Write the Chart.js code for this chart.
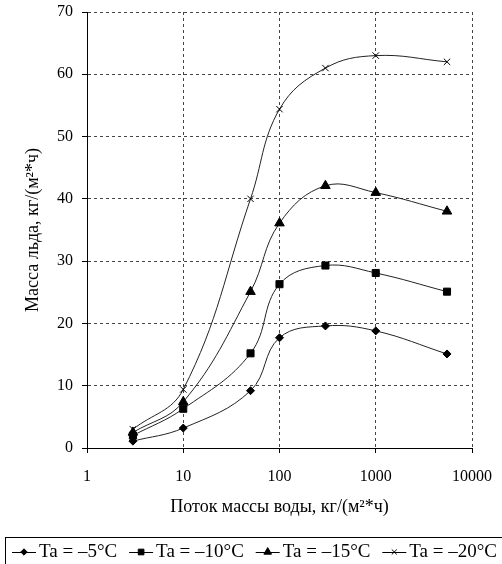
<!DOCTYPE html>
<html>
<head>
<meta charset="utf-8">
<script src="https://cdn.jsdelivr.net/npm/chart.js@4.4.1/dist/chart.umd.min.js"></script>
<style>
html, body { margin: 0; padding: 0; background: #fff; }
</style>
</head>
<body>
<canvas id="myChart" width="502" height="564"></canvas>
<script>
// Water mass flow, kg/(m2*h)
const flowValues = [3, 10, 50, 100, 300, 1000, 5500];

// Ice mass for each air temperature, kg/(m2*h)
const iceMinus5 = [1.1, 3.2, 9.2, 17.7, 19.6, 18.8, 15.1];
const iceMinus10 = [2.0, 6.3, 15.2, 26.3, 29.3, 28.1, 25.1];
const iceMinus15 = [2.5, 7.4, 25.1, 36.1, 42.1, 41.0, 38.0];
const iceMinus20 = [3.0, 9.4, 40.0, 54.4, 61.0, 63.0, 62.0];

const seriesLabels = ['Ta = –5°C', 'Ta = –10°C', 'Ta = –15°C', 'Ta = –20°C'];
const xTickValues = [1, 10, 100, 1000, 10000];
const yTickValues = [0, 10, 20, 30, 40, 50, 60, 70];

const serif = '"Liberation Serif", "Times New Roman", serif';

function toPoints(values) {
    return values.map((v, i) => ({ x: flowValues[i], y: v }));
}

function makeDataset(label, values, style, radius) {
    return {
        label: label,
        data: toPoints(values),
        borderColor: '#222',
        borderWidth: 1,
        backgroundColor: '#000',
        pointStyle: style,
        pointRadius: radius,
        pointBorderColor: '#000',
        pointBackgroundColor: '#000',
        pointBorderWidth: 1,
        tension: 0.4,
        fill: false
    };
}

// Legend in a box below the chart: short line with marker, then label
const boxLegend = {
    id: 'boxLegend',
    afterDraw(chart) {
        const ctx = chart.ctx;
        const left = 12, right = 497, lineLen = 24, textGap = 3;
        const y = 552;
        ctx.save();
        ctx.font = '19px ' + serif;
        ctx.textBaseline = 'middle';
        const widths = chart.data.datasets.map(ds => ctx.measureText(ds.label).width);
        const used = widths.reduce((a, b) => a + b, 0) + widths.length * (lineLen + textGap);
        const itemGap = (right - left - used) / (widths.length - 1);

        ctx.strokeStyle = '#000';
        ctx.lineWidth = 1;
        ctx.strokeRect(5.5, 537.5, 520, 40);

        let x = left;
        chart.data.datasets.forEach((ds, i) => {
            ctx.strokeStyle = '#000';
            ctx.beginPath();
            ctx.moveTo(x, y + 0.5);
            ctx.lineTo(x + lineLen, y + 0.5);
            ctx.stroke();
            ctx.fillStyle = '#000';
            if (Chart.helpers && Chart.helpers.drawPoint) {
                Chart.helpers.drawPoint(ctx, {
                    pointStyle: ds.pointStyle,
                    radius: ds.pointRadius * 0.8,
                    rotation: 0,
                    borderWidth: 1
                }, x + lineLen / 2, y);
            }
            ctx.fillStyle = '#000';
            ctx.fillText(ds.label, x + lineLen + textGap, y);
            x += lineLen + textGap + widths[i] + itemGap;
        });
        ctx.restore();
    }
};

window.onload = function () {
    const ctx = document.getElementById('myChart').getContext('2d');
    new Chart(ctx, {
        type: 'line',
        data: {
            datasets: [
                makeDataset(seriesLabels[0], iceMinus5, 'rectRot', 4),
                makeDataset(seriesLabels[1], iceMinus10, 'rect', 5),
                makeDataset(seriesLabels[2], iceMinus15, 'triangle', 5.5),
                makeDataset(seriesLabels[3], iceMinus20, 'crossRot', 4.5)
            ]
        },
        options: {
            responsive: false,
            animation: false,
            layout: {
                padding: { left: 0, top: 12, right: 30, bottom: 39 }
            },
            scales: {
                x: {
                    type: 'logarithmic',
                    min: 1,
                    max: 10000,
                    afterBuildTicks: function (scale) {
                        scale.ticks = xTickValues.map(v => ({ value: v }));
                    },
                    afterFit: function (scale) {
                        scale.height = 77;
                        scale.paddingLeft = 0;
                        scale.paddingRight = 0;
                    },
                    ticks: {
                        color: '#000',
                        font: { family: serif, size: 16 },
                        padding: 14,
                        maxRotation: 0,
                        autoSkip: false,
                        callback: function (value) { return String(value); }
                    },
                    grid: {
                        color: '#444',
                        lineWidth: 1,
                        tickLength: 5,
                        tickColor: '#000',
                        tickBorderDash: []
                    },
                    border: { display: true, color: '#000', width: 1, dash: [3, 3] },
                    title: {
                        display: true,
                        text: 'Поток массы воды, кг/(м²*ч)',
                        color: '#000',
                        font: { family: serif, size: 18 },
                        padding: { top: 0, bottom: 7 }
                    }
                },
                y: {
                    type: 'linear',
                    min: 0,
                    max: 70,
                    afterBuildTicks: function (scale) {
                        scale.ticks = yTickValues.map(v => ({ value: v }));
                    },
                    afterFit: function (scale) {
                        scale.width = 87;
                        scale.paddingTop = 0;
                        scale.paddingBottom = 0;
                    },
                    ticks: {
                        color: '#000',
                        font: { family: serif, size: 16 },
                        padding: 9
                    },
                    grid: {
                        color: '#444',
                        lineWidth: 1,
                        tickLength: 5,
                        tickColor: '#000',
                        tickBorderDash: []
                    },
                    border: { display: true, color: '#000', width: 1, dash: [3, 3] },
                    title: {
                        display: true,
                        text: 'Масса льда, кг/(м²*ч)',
                        color: '#000',
                        font: { family: serif, size: 18 },
                        padding: { top: 22, bottom: 0 }
                    }
                }
            },
            plugins: {
                legend: { display: false },
                tooltip: { enabled: false }
            }
        },
        plugins: [boxLegend]
    });
};
</script>
</body>
</html>
